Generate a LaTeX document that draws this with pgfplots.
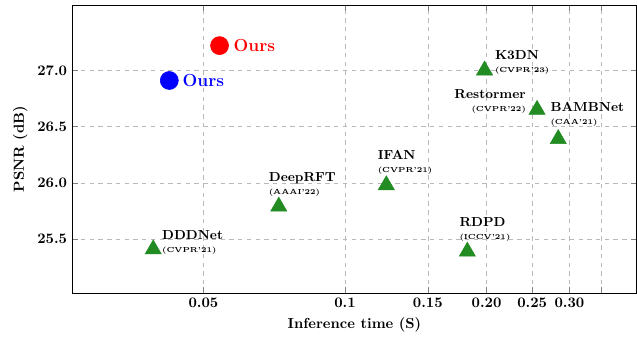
\documentclass[border=0pt]{standalone}
\usepackage{pgfplots}
\pgfplotsset{compat=1.18}
\definecolor{mygreen}{RGB}{34,139,34}
\begin{document}
\begin{tikzpicture}
\begin{axis}[
  scale only axis,
  width=388pt, height=198pt,
  xmode=log,
  xmin=0.0263, xmax=0.417,
  ymin=25.02, ymax=27.58,
  xtick={0.05,0.1,0.15,0.2,0.25,0.3,0.35},
  xticklabels={0.05,0.1,0.15,0.20,0.25,0.30,},
  minor xtick={},
  ytick={25.5,26,26.5,27},
  yticklabels={25.5,26.0,26.5,27.0},
  tick label style={font=\bfseries},
  grid=major,
  major grid style={dashed, gray!55},
  xlabel={\bfseries Inference time (S)},
  ylabel={\bfseries PSNR (dB)},
  axis line style={black},
  clip=false,
]
\addplot[only marks, mark=triangle*, mark size=6.4pt, color=mygreen] coordinates {
  (0.0391,25.41) (0.0723,25.79) (0.1224,25.98) (0.182,25.39)
  (0.198,27.00) (0.256,26.65) (0.284,26.39)
};
\addplot[only marks, mark=*, mark size=6.2pt, color=red] coordinates {(0.0541,27.22)};
\addplot[only marks, mark=*, mark size=6.2pt, color=blue] coordinates {(0.0423,26.91)};

\node[anchor=west, inner sep=0pt, text=red, font=\large\bfseries, xshift=9.5pt] at (axis cs:0.0541,27.22) {Ours};
\node[anchor=west, inner sep=0pt, text=blue, font=\large\bfseries, xshift=9pt] at (axis cs:0.0423,26.91) {Ours};

\node[anchor=west, inner sep=0pt, align=left, xshift=6pt, yshift=5pt] at (axis cs:0.0391,25.41) {{\small\bfseries DDDNet}\\[-3pt]{\tiny\bfseries (CVPR'21)}};
\node[anchor=south west, inner sep=0pt, align=left, xshift=-7pt, yshift=7pt] at (axis cs:0.0723,25.79) {{\small\bfseries DeepRFT}\\[-3pt]{\tiny\bfseries (AAAI'22)}};
\node[anchor=south west, inner sep=0pt, align=left, xshift=-6pt, yshift=7.5pt] at (axis cs:0.1224,25.98) {{\small\bfseries IFAN}\\[-3pt]{\tiny\bfseries (CVPR'21)}};
\node[anchor=south west, inner sep=0pt, align=left, xshift=-5.5pt, yshift=7pt] at (axis cs:0.182,25.39) {{\small\bfseries RDPD}\\[-3pt]{\tiny\bfseries (ICCV'21)}};
\node[anchor=west, inner sep=0pt, align=left, xshift=7pt, yshift=5.5pt] at (axis cs:0.198,27.00) {{\small\bfseries K3DN}\\[-3pt]{\tiny\bfseries (CVPR'23)}};
\node[anchor=east, inner sep=0pt, align=right, xshift=-7.5pt, yshift=6pt] at (axis cs:0.256,26.65) {{\small\bfseries Restormer}\\[-3pt]{\tiny\bfseries (CVPR'22)}};
\node[anchor=south west, inner sep=0pt, align=left, xshift=-5.5pt, yshift=8.5pt] at (axis cs:0.284,26.39) {{\small\bfseries BAMBNet}\\[-3pt]{\tiny\bfseries (CAA'21)}};
\end{axis}
\path (current axis.outer west) ++(-5.5pt,0pt);
\path (current axis.north) ++(0pt,3.5pt);
\end{tikzpicture}
\end{document}
